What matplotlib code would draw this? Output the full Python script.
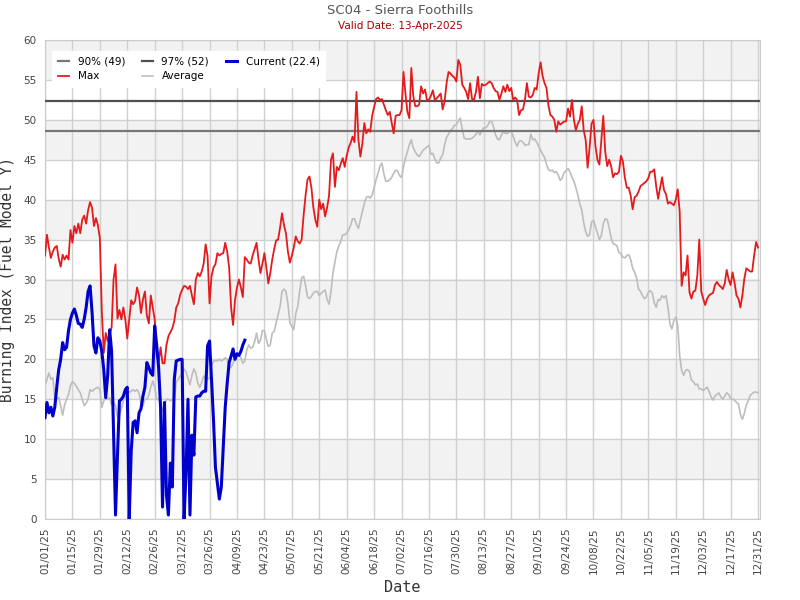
import numpy as np
import pandas as pd
import matplotlib
matplotlib.use("Agg")
import matplotlib.pyplot as plt

# Burning index, SC04 - Sierra Foothills, 2025
start = "2025-01-01"

max_bi = [
    33.0, 35.6, 34.0, 32.7, 33.5, 34.0, 34.2, 32.6, 31.6, 33.1,
    32.5, 33.0, 32.5, 36.2, 34.6, 36.7, 35.8, 37.0, 35.8, 37.5,
    38.0, 37.0, 38.7, 39.7, 39.0, 36.7, 37.7, 36.8, 35.2, 26.0,
    20.8, 23.3, 22.3, 23.2, 24.0, 30.0, 31.9, 25.1, 26.2, 25.0,
    26.5, 25.0, 22.6, 25.0, 27.4, 26.9, 27.3, 29.0, 28.0, 25.8,
    27.5, 28.5, 25.5, 24.5, 28.0, 26.5, 25.0, 20.6, 19.6, 21.5,
    19.5, 19.5, 21.8, 22.9, 23.4, 23.9, 24.8, 26.5, 27.0, 28.1,
    28.7, 29.2, 29.1, 28.8, 29.2, 28.0, 26.9, 30.0, 30.8, 30.4,
    31.0, 32.0, 34.4, 32.9, 27.0, 30.4, 31.5, 31.9, 33.3, 33.0,
    33.2, 33.3, 34.6, 33.5, 31.5, 26.5, 24.3, 27.4, 29.0, 30.0,
    29.0, 27.8, 32.8, 32.5, 32.1, 32.0, 33.0, 33.8, 34.6, 32.5,
    30.8, 32.0, 33.3, 31.5, 29.5, 30.8, 32.5, 33.8, 34.9, 35.0,
    36.5, 38.3, 36.8, 35.8, 33.5, 32.1, 33.0, 34.0, 35.4, 34.8,
    34.5, 35.0, 38.0, 40.5, 42.5, 42.9, 41.5, 39.0, 37.5, 36.6,
    40.0, 38.8, 39.5, 37.9, 39.0, 40.5, 45.0, 45.8, 41.6, 44.1,
    43.7, 44.5, 45.2, 44.1, 45.5, 46.5, 47.1, 47.9, 47.2, 53.5,
    47.5, 45.4, 47.0, 49.6, 48.3, 48.8, 48.5, 50.5, 51.6, 52.6,
    52.8, 52.5, 52.6, 51.9, 51.2, 50.6, 51.0, 49.6, 48.3, 50.5,
    50.6, 50.6, 51.2, 56.0, 53.3, 51.0, 50.2, 56.5, 53.0, 51.7,
    51.7, 51.9, 54.2, 53.3, 53.8, 52.5, 52.5, 53.0, 53.7, 52.5,
    52.7, 53.0, 53.3, 51.3, 52.3, 54.6, 56.0, 55.8, 55.5, 55.3,
    54.8, 57.5, 56.9, 54.4, 54.0, 53.5, 52.6, 54.6, 52.6, 52.5,
    53.5, 55.4, 52.7, 54.5, 54.3, 54.4, 54.6, 54.8, 54.6, 54.0,
    53.6, 53.5, 52.5, 53.3, 54.2, 53.5, 54.4, 53.6, 54.0, 52.5,
    52.8, 52.5, 50.6, 51.2, 51.3, 52.5, 54.6, 52.9, 52.8, 53.1,
    54.0, 53.8, 55.8, 57.2, 55.5, 54.6, 54.0, 51.8, 50.6, 50.4,
    50.0, 48.5, 49.8, 49.4, 49.6, 49.8, 49.8, 51.4, 50.4, 52.5,
    50.0, 48.7, 49.5, 50.0, 51.7, 48.7, 47.5, 44.0, 46.5, 49.5,
    50.0, 46.7, 45.0, 44.4, 47.5, 50.5, 46.0, 44.2, 45.0, 44.2,
    42.8, 43.3, 43.2, 43.5, 45.5, 44.8, 42.8, 41.5, 41.5, 40.5,
    38.8, 40.3, 40.5, 41.0, 41.7, 41.9, 42.1, 42.3, 42.7, 43.5,
    43.5, 43.8, 41.7, 40.1, 41.5, 42.8, 41.2, 40.7, 39.5, 39.7,
    39.5, 39.3, 40.0, 41.3, 38.5, 29.2, 30.9, 30.5, 33.0, 28.4,
    27.6, 28.5, 28.6, 30.5, 35.0, 28.5, 27.6, 26.8, 27.6, 28.0,
    28.2, 28.3, 29.3, 29.7, 29.3, 29.1, 28.8, 29.5, 31.2, 30.0,
    29.3, 30.9, 29.6, 28.0, 27.6, 26.5, 28.0, 30.1, 31.4, 31.2,
    31.0, 31.0, 33.0, 34.7, 34.0,
]

avg_bi = [
    16.7, 17.5, 18.3, 17.5, 17.7, 15.2, 15.1, 15.2, 14.2, 13.0,
    14.3, 15.0, 15.6, 16.7, 17.2, 17.0, 16.6, 16.2, 15.8, 15.0,
    14.2, 14.5, 15.0, 16.2, 16.0, 16.2, 16.4, 16.5, 16.2, 14.0,
    14.8, 15.1, 15.0, 15.2, 14.3, 14.6, 14.2, 12.8, 13.0, 13.8,
    14.8, 15.4, 15.8, 15.9, 16.0, 16.2, 16.0, 16.2, 15.8, 14.5,
    14.2, 15.0, 15.0, 15.5, 16.5, 17.3, 16.5, 15.0, 15.0, 14.5,
    13.5, 14.3, 15.0, 15.0, 14.8, 15.0, 14.9, 17.1, 17.5, 17.9,
    18.3, 18.8, 18.4, 17.6, 16.8, 18.0, 18.8, 18.3, 17.0, 16.5,
    17.1, 17.9, 17.6, 17.7, 17.5, 19.2, 19.8, 19.8, 19.8, 20.0,
    19.8, 20.0, 20.2, 20.0, 18.9, 19.0, 19.5, 20.2, 20.7, 20.5,
    20.2, 19.5, 19.8, 21.2, 21.8, 21.4, 21.5, 22.2, 23.3, 22.0,
    22.4, 23.6, 23.6, 22.5, 21.6, 21.8, 23.3, 23.5, 24.6, 25.6,
    26.6, 28.5, 28.8, 28.5, 27.0, 24.6, 24.1, 23.7, 25.7, 26.6,
    28.5, 30.2, 30.4, 29.3, 27.8, 27.6, 27.9, 28.3, 28.5, 28.5,
    28.0, 28.3, 28.5, 28.7, 27.5, 26.9, 28.5, 30.8, 32.2, 33.5,
    34.2, 34.8, 35.6, 35.6, 35.8, 36.2, 36.8, 37.6, 37.6, 36.9,
    36.4, 37.5, 38.5, 39.5, 40.3, 40.4, 40.2, 40.6, 41.5, 42.5,
    43.3, 44.2, 44.6, 43.2, 42.3, 42.3, 42.5, 42.8, 43.3, 43.7,
    43.6, 43.0, 42.8, 44.1, 45.2, 46.0, 46.9, 47.5, 46.5, 46.0,
    45.6, 45.4, 45.8, 46.2, 46.4, 46.6, 46.8, 45.7, 45.8, 45.1,
    44.6, 44.6, 45.2, 45.6, 46.9, 47.8, 48.2, 48.7, 48.9, 49.3,
    49.4, 49.9, 50.2, 48.8, 47.7, 47.6, 47.6, 47.6, 47.7, 47.9,
    48.2, 48.6, 48.1, 48.6, 49.0, 49.0, 49.3, 49.8, 49.8, 49.1,
    48.1, 47.6, 47.5, 48.1, 48.5, 48.3, 48.3, 48.5, 48.6, 47.9,
    47.2, 46.7, 47.3, 47.4, 47.2, 46.8, 46.9, 46.9, 48.2, 47.5,
    47.6, 47.2, 46.7, 46.2, 45.7, 45.3, 44.4, 43.8, 43.6, 43.7,
    43.4, 43.5, 43.1, 42.4, 42.7, 43.4, 43.6, 43.9, 43.5, 42.8,
    42.3, 41.5, 40.6, 39.5, 38.7, 37.1, 36.0, 35.4, 35.6, 37.2,
    37.4, 36.6, 35.8, 35.0, 35.5, 37.0, 37.6, 37.5, 36.5, 35.2,
    34.5, 34.4, 34.2, 33.4, 33.2, 32.8, 32.7, 33.0, 33.1, 32.5,
    31.4, 30.9, 30.2, 28.8, 28.5, 28.0, 27.6, 27.8, 28.4, 28.6,
    28.3, 27.1, 26.5, 27.5, 27.4, 28.0, 27.7, 28.0, 26.5, 24.5,
    23.8, 24.8, 25.3, 24.3, 20.5, 18.6, 18.0, 18.6, 18.7, 18.5,
    17.4, 17.2, 16.8, 16.9, 16.3, 16.3, 16.1, 16.3, 16.5, 16.0,
    15.3, 14.9, 15.4, 15.6, 15.8, 15.3, 15.0, 15.4, 15.8, 15.6,
    15.1, 15.0, 14.9, 14.6, 14.4, 13.1, 12.5, 13.2, 14.3, 14.8,
    15.5, 15.7, 15.9, 15.9, 15.8,
]

current_bi = [
    12.7, 14.6, 13.3, 14.0, 12.9, 14.0, 16.5, 18.7, 20.0, 22.1,
    21.2, 21.5, 23.6, 25.0, 25.8, 26.3, 25.5, 24.5, 24.4, 24.0,
    25.0, 26.5, 28.5, 29.2, 26.0, 21.7, 20.8, 22.7, 22.3, 21.0,
    18.7, 15.2, 18.0, 23.7, 21.0, 10.8, 0.5, 8.0, 14.8, 15.0,
    15.4, 16.2, 16.5, 0.0, 8.5, 12.1, 12.3, 10.8, 13.3, 13.8,
    15.4, 16.5, 19.6, 19.0, 18.3, 18.0, 24.2, 21.8, 19.0, 14.0,
    1.5, 14.6, 3.0, 0.5, 7.0, 4.0, 17.5, 19.8, 19.9, 20.0,
    20.0, 0.0, 5.8, 15.0, 0.5, 10.5, 8.0, 15.3, 15.4, 15.4,
    15.8, 16.0, 16.0, 21.7, 22.3, 17.5, 12.5, 6.5, 4.5, 2.5,
    4.0, 9.0, 14.0, 17.0, 19.6, 20.4, 21.3, 20.0, 20.7, 20.5,
    21.0, 21.8, 22.4,
]

pct90 = 48.6
pct97 = 52.3
labels = ["90% (49)", "97% (52)", "Current (22.4)", "Max", "Average"]

days = pd.date_range(start, periods=len(max_bi), freq="D")
cur_days = pd.date_range(start, periods=len(current_bi), freq="D")
ticks = pd.date_range(start, "2025-12-31", freq="14D")

fig = plt.figure(figsize=(8, 6), dpi=100)
ax = fig.add_axes([45 / 800, 81 / 600, 715 / 800, 479 / 600])

# alternating bands
for y0 in range(5, 60, 10):
    ax.axhspan(y0, y0 + 5, color="#f2f2f2", zorder=0, lw=0)

ax.set_xlim(pd.Timestamp(start), pd.Timestamp("2026-01-01"))
ax.set_ylim(0, 60)
ax.set_yticks(range(0, 61, 5))
ax.set_xticks(ticks)
ax.set_xticklabels([t.strftime("%m/%d/%y") for t in ticks], rotation=90)
ax.grid(True, color="#d0d0d0", lw=1, zorder=1)
ax.set_axisbelow(True)
ax.tick_params(length=0, labelsize=7.5, colors="#444444", pad=6)
for s in ax.spines.values():
    s.set_color("#cccccc")

h90 = ax.axhline(pct90, color="#777777", lw=1.6, zorder=3)
h97 = ax.axhline(pct97, color="#505050", lw=1.6, zorder=3)
la, = ax.plot(days, avg_bi, color="#bdbdbd", lw=1.2, zorder=2)
lm, = ax.plot(days, max_bi, color="#e41a1c", lw=1.3, zorder=4)
lc, = ax.plot(cur_days, current_bi, color="#0000cc", lw=2.2, zorder=5)

leg = ax.legend([h90, lm, h97, la, lc],
                [labels[0], labels[3], labels[1], labels[4], labels[2]],
                ncol=3, loc="upper left", bbox_to_anchor=(7 / 715, 1 - 10.5 / 479),
                borderaxespad=0, fontsize=7.5, frameon=True, fancybox=False,
                framealpha=1, edgecolor="white", handlelength=1.05,
                columnspacing=1.6, handletextpad=0.85, borderpad=0.55,
                labelspacing=0.5)
leg.set_zorder(10)

ax.set_xlabel("Date", family="DejaVu Sans Mono", fontsize=11, color="#333333")
ax.set_ylabel("Burning Index (Fuel Model Y)", family="DejaVu Sans Mono",
              fontsize=10.5, color="#333333", labelpad=6)

fig.text(0.5, 1 - 11 / 600, "SC04 - Sierra Foothills", ha="center", va="center",
         fontsize=9.5, color="#555555")
fig.text(0.5, 1 - 26 / 600, "Valid Date: 13-Apr-2025", ha="center", va="center",
         fontsize=7.5, color="#aa0000")

fig.savefig("out.png", dpi=100)
